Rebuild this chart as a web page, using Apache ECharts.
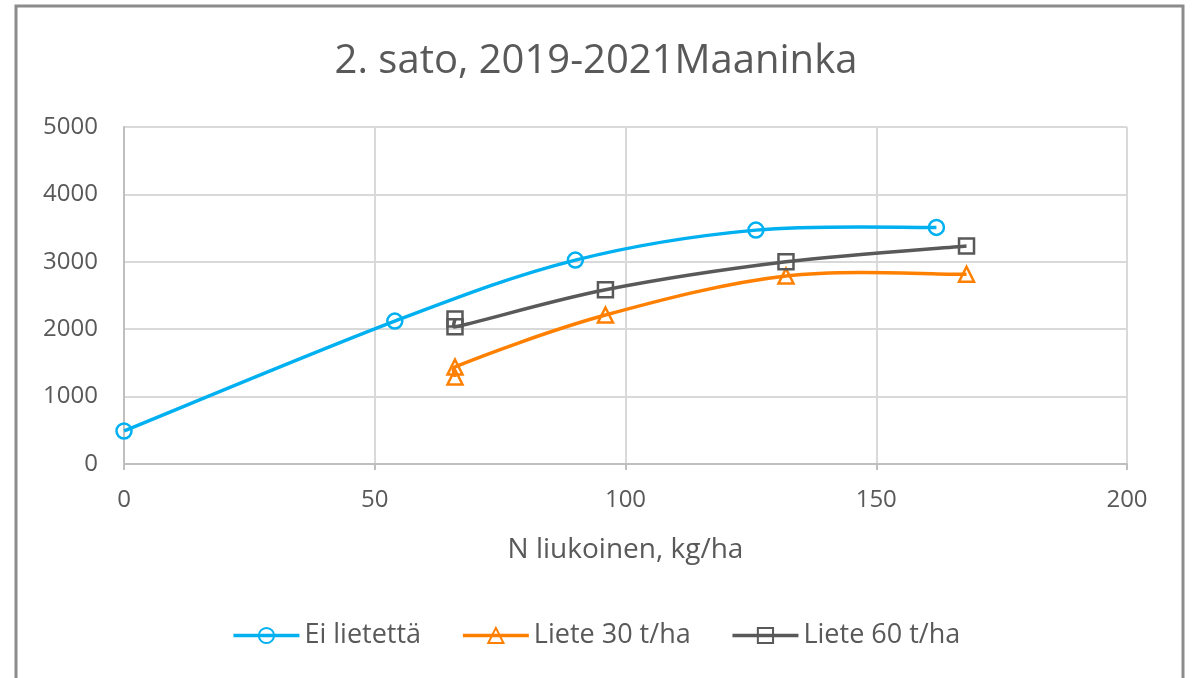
<!DOCTYPE html>
<html>
<head>
<meta charset="utf-8">
<title>2. sato, 2019-2021Maaninka</title>
<script src="https://cdn.jsdelivr.net/npm/echarts@6/dist/echarts.min.js"></script>
<style>
  html, body { margin: 0; padding: 0; background: #fff; }
  #chart { width: 1192px; height: 678px; }
</style>
</head>
<body>
<div id="chart"></div>
<script>
// data: [N liukoinen kg/ha, sato], in drawing order
const eiLietetta = [[0, 490], [54, 2120], [90, 3025], [126, 3470], [162, 3510]];
const liete30 = [[66, 1290], [66, 1440], [96, 2210], [132, 2790], [168, 2815]];
const liete60 = [[66, 2150], [66, 2035], [96, 2585], [132, 3000], [168, 3235]];
const seriesNames = ["Ei lietettä", "Liete 30 t/ha", "Liete 60 t/ha"];
const xTicks = [0, 200, 50];
const yTicks = [0, 5000, 1000];

(function() {
    let chart = echarts.init(document.getElementById("chart"));
    let font = "'Open Sans', sans-serif";
    let textColor = "#595959";
    let colors = ["#00b0f0", "#ff8000", "#595959"];

    // keep a control arm shorter than its segment so short segments don't hook
    function arm(dx, dy, chord) {
        let len = Math.sqrt(dx * dx + dy * dy),
            maxLen = chord * 0.4;
        if (len > maxLen && len > 0) {
            dx *= maxLen / len;
            dy *= maxLen / len;
        }
        return [dx, dy];
    }

    // excel style smoothed line (catmull-rom -> bezier), in pixel space
    function smoothPath(data, api) {
        let p = data.map(d => api.coord(d));
        let s = "M" + p[0][0] + " " + p[0][1];
        for (let i = 0; i < p.length - 1; i++) {
            let p0 = p[i - 1] || p[i],
                p1 = p[i],
                p2 = p[i + 1],
                p3 = p[i + 2] || p[i + 1];
            let chord = Math.hypot(p2[0] - p1[0], p2[1] - p1[1]);
            let a1 = arm((p2[0] - p0[0]) / 6, (p2[1] - p0[1]) / 6, chord),
                a2 = arm((p3[0] - p1[0]) / 6, (p3[1] - p1[1]) / 6, chord);
            s += " C" + (p1[0] + a1[0]) + " " + (p1[1] + a1[1]) + " " +
                (p2[0] - a2[0]) + " " + (p2[1] - a2[1]) + " " + p2[0] + " " + p2[1];
        }
        return s;
    }

    function curve(name, data, color) {
        return {
            name: name,
            type: "custom",
            data: data,
            silent: true,
            z: 2,
            renderItem: function(params, api) {
                if (params.dataIndex !== 0) return null;
                return {
                    type: "path",
                    shape: { pathData: smoothPath(data, api) },
                    style: { fill: null, stroke: color, lineWidth: 3.5, lineJoin: "round" }
                };
            }
        };
    }

    function marks(name, data, color, symbol) {
        return {
            name: name,
            type: "line",
            data: data,
            symbol: symbol,
            symbolSize: 15,
            showAllSymbol: true,
            lineStyle: { color: color, width: 3.5, opacity: 0 },
            itemStyle: { color: "rgba(0,0,0,0)", borderColor: color, borderWidth: 2.5 },
            emphasis: { disabled: true },
            z: 3
        };
    }

    let option = {
        animation: false,
        color: colors,
        title: {
            text: "2. sato, 2019-2021Maaninka",
            left: "center",
            top: 37,
            textStyle: { fontFamily: font, fontSize: 40, fontWeight: "normal", color: textColor }
        },
        legend: {
            top: 617,
            left: "center",
            itemWidth: 66,
            itemHeight: 19,
            itemGap: 40,
            textStyle: { fontFamily: font, fontSize: 27, color: textColor },
            data: seriesNames.map((n, i) => ({
                name: n,
                lineStyle: { opacity: 1, width: 3.5, color: colors[i] }
            }))
        },
        grid: { left: 124, right: 65, top: 127, bottom: 214 },
        xAxis: {
            type: "value",
            min: xTicks[0], max: xTicks[1], interval: xTicks[2],
            name: "N liukoinen, kg/ha",
            nameLocation: "middle",
            nameGap: 72,
            nameTextStyle: { fontFamily: font, fontSize: 28, color: textColor },
            axisLine: { show: true, lineStyle: { color: "#bfbfbf", width: 2 } },
            axisTick: { show: true, length: 6, lineStyle: { color: "#bfbfbf", width: 2 } },
            axisLabel: { margin: 24, fontFamily: font, fontSize: 24, color: textColor },
            splitLine: { show: true, lineStyle: { color: "#d9d9d9", width: 2 } }
        },
        yAxis: {
            type: "value",
            min: yTicks[0], max: yTicks[1], interval: yTicks[2],
            axisLine: { show: true, lineStyle: { color: "#bfbfbf", width: 2 } },
            axisTick: { show: false },
            axisLabel: { margin: 26, fontFamily: font, fontSize: 24, color: textColor, formatter: v => String(v) },
            splitLine: { show: true, lineStyle: { color: "#d9d9d9", width: 2 } }
        },
        graphic: [{
            type: "polyline",
            shape: { points: [[16, 678], [16, 6], [1183, 6], [1183, 678]] },
            style: { stroke: "#8c8c8c", lineWidth: 3, fill: null },
            silent: true
        }],
        series: [
            marks(seriesNames[0], eiLietetta, colors[0], "circle"),
            marks(seriesNames[1], liete30, colors[1], "triangle"),
            marks(seriesNames[2], liete60, colors[2], "rect"),
            curve(seriesNames[0], eiLietetta, colors[0]),
            curve(seriesNames[1], liete30, colors[1]),
            curve(seriesNames[2], liete60, colors[2])
        ]
    };

    chart.setOption(option);
}());
</script>
</body>
</html>
